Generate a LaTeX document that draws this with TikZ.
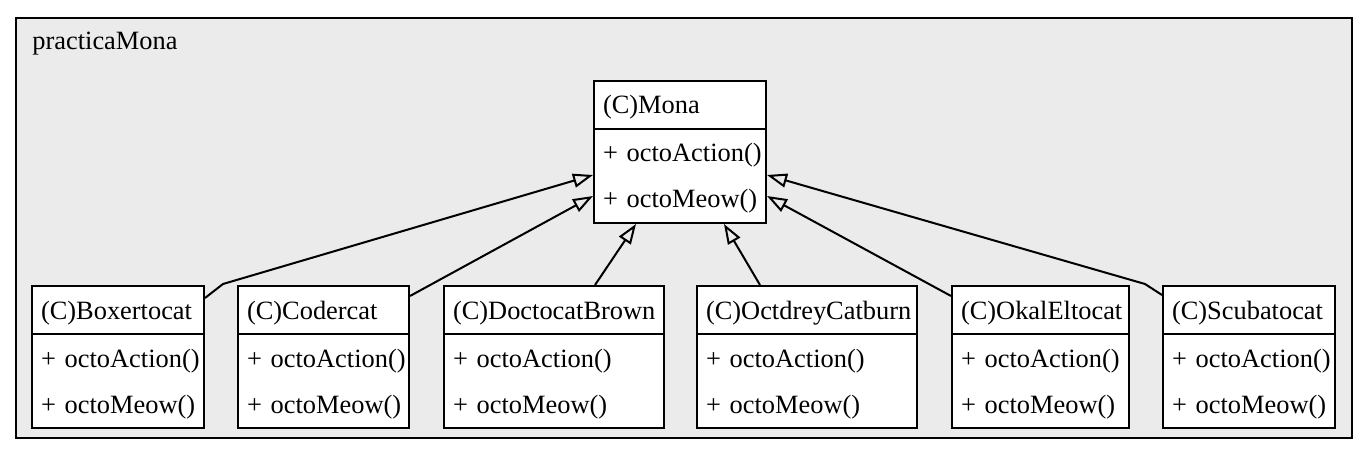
\documentclass[tikz,border=0pt]{standalone}
\usepackage{fontspec}
\setmainfont{Liberation Serif}
\usetikzlibrary{shapes.multipart,arrows.meta,calc}
\definecolor{clusterbg}{HTML}{EBEBEB}
\newcommand{\rowstrut}{\rule[-7pt]{0pt}{23pt}}
\newcommand{\umlrow}[1]{\mbox{\rowstrut#1}}
\newcommand{\catmethods}{\umlrow{+ octoAction()}\\\umlrow{+ octoMeow()}}
\tikzstyle{cluster} = [draw=black, line width=1pt, fill=clusterbg]
\tikzstyle{umlclass} = [rectangle split, rectangle split parts=2, draw=black, line width=1pt, fill=white, align=left, inner xsep=4.5pt, inner ysep=0pt, anchor=north west, font=\fontsize{13.2}{23}\selectfont]
\tikzstyle{inherit} = [line width=1pt, -{Triangle[open, length=10pt, width=7pt]}]

\begin{document}
\begin{tikzpicture}[x=0.5pt, y=-0.5pt]
\useasboundingbox (0,0) rectangle (1368,454);

% package cluster
\draw[cluster] (16,18) rectangle (1352,438);
\node[anchor=base west, inner sep=0pt, font=\fontsize{13.2}{16}\selectfont] (pkg) at (32,50) {practicaMona};

% parent class
\node (mona) [umlclass, text width=77pt] at (593,80) {\umlrow{(C)Mona} \nodepart{second}\catmethods};

% subclasses
\node (boxer) [umlclass, text width=77pt] at (31,285) {\umlrow{(C)Boxertocat} \nodepart{second}\catmethods};
\node (coder) [umlclass, text width=76.5pt] at (237,285) {\umlrow{(C)Codercat} \nodepart{second}\catmethods};
\node (docto) [umlclass, text width=101pt] at (443,285) {\umlrow{(C)DoctocatBrown} \nodepart{second}\catmethods};
\node (octdrey) [umlclass, text width=101pt] at (696,285) {\umlrow{(C)OctdreyCatburn} \nodepart{second}\catmethods};
\node (okal) [umlclass, text width=79.5pt] at (951,285) {\umlrow{(C)OkalEltocat} \nodepart{second}\catmethods};
\node (scuba) [umlclass, text width=77pt] at (1162,285) {\umlrow{(C)Scubatocat} \nodepart{second}\catmethods};

% inheritance
\draw [inherit] ([yshift=-6.5pt]boxer.north east) -- ++(9pt,7pt) -- ([yshift=-47.5pt]mona.north west);
\draw [inherit] ([yshift=-5.5pt]coder.north east) -- ([yshift=-58pt]mona.north west);
\draw [inherit] ([xshift=76pt]docto.north west) -- ([xshift=21.5pt]mona.south west);
\draw [inherit] ([xshift=32pt]octdrey.north west) -- ([xshift=-21.5pt]mona.south east);
\draw [inherit] ([yshift=-5.5pt]okal.north west) -- ([yshift=-58pt]mona.north east);
\draw [inherit] ([yshift=-5pt]scuba.north west) -- ++(-8.5pt,5.5pt) -- ([yshift=-47.5pt]mona.north east);

\end{tikzpicture}
\end{document}
